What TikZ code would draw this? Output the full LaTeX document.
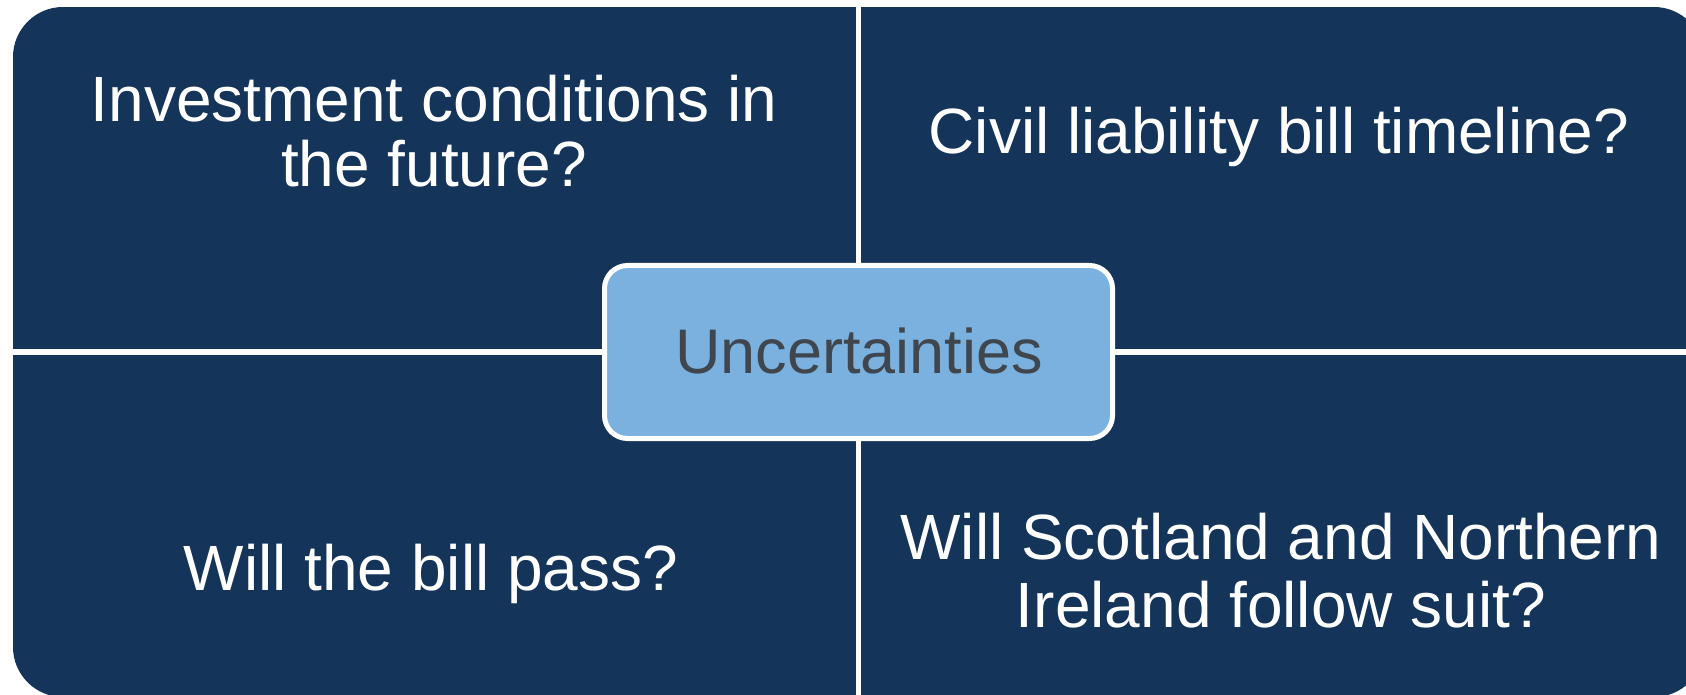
\documentclass[tikz,border=0pt]{standalone}
\usepackage{fontspec}
\setmainfont{Liberation Sans}
\definecolor{navy}{RGB}{20,52,90}
\definecolor{lightblue}{RGB}{123,177,223}
\definecolor{centertext}{RGB}{64,70,78}
\tikzset{
  quad/.style={fill=navy},
  qtext/.style={text=white, inner sep=0pt, anchor=base, font=\fontsize{32}{32}\selectfont},
  centerbox/.style={fill=lightblue, draw=white, line width=2.5pt, rounded corners=11.5pt},
  ctext/.style={text=centertext, inner sep=0pt, anchor=base, font=\fontsize{31.5}{31.5}\selectfont}
}
\begin{document}
\begin{tikzpicture}[x=0.5pt,y=-0.5pt]
\useasboundingbox (0,0) rectangle (1686,695);
\fill[white] (0,0) rectangle (1686,695);
\begin{scope}
  \clip[rounded corners=25pt] (13,7) rectangle (1704,697);
  \fill[quad] (13,7) rectangle (855.7,349.3);
  \fill[quad] (861,7) rectangle (1704,349.3);
  \fill[quad] (13,355) rectangle (855.7,697);
  \fill[quad] (861,355) rectangle (1704,697);
\end{scope}
\node[qtext] (q1a) at (434,122) {Investment conditions in};
\node[qtext] (q1b) at (434,187) {the future?};
\node[qtext] (q2) at (1279,154) {Civil liability bill timeline?};
\node[qtext] (q3) at (431,590) {Will the bill pass?};
\node[qtext] (q4a) at (1281,559) {Will Scotland and Northern};
\node[qtext] (q4b) at (1281,627) {Ireland follow suit?};
\path[centerbox] (604.5,265.5) rectangle (1112.5,438.5);
\node[ctext] (center) at (859,373) {Uncertainties};
\end{tikzpicture}
\end{document}
